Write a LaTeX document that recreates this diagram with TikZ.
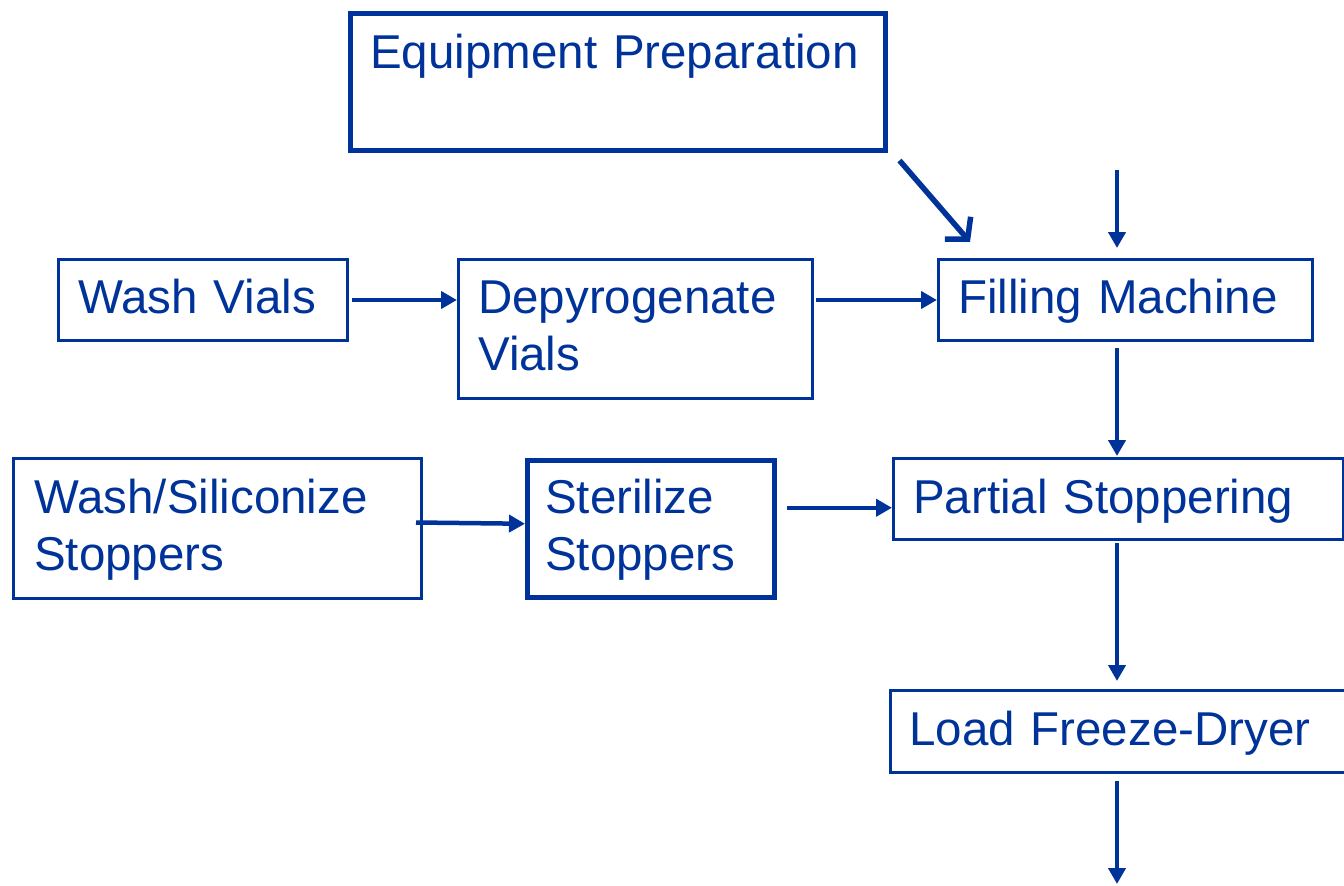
\documentclass[tikz,border=0pt]{standalone}
\usepackage{fontspec}
\setmainfont{Liberation Sans}
\usetikzlibrary{arrows.meta}
\definecolor{fblue}{RGB}{0,51,153}
\hyphenpenalty=10000\relax
\begin{document}
\begin{tikzpicture}[x=1pt,y=-1pt,
  box/.style={draw=fblue, line width=3pt, rectangle, inner sep=0pt, anchor=north west},
  thickbox/.style={box, line width=4.5pt},
  txt/.style={text=fblue, font=\fontsize{47.5}{57}\selectfont, anchor=base west, inner sep=0pt, text width=700pt, align=left},
  arr/.style={draw=fblue, line width=4.5pt, -{Triangle[length=16pt,width=17pt]}},
  arrv/.style={draw=fblue, line width=5.5pt, -{Straight Barb[length=15pt,width=34pt,line width=5.5pt]}}
]
\useasboundingbox (0,0) rectangle (1344,886);

% boxes
\node[thickbox, minimum width=535pt, minimum height=137pt] (eq) at (348,11) {};
\node[box, minimum width=289pt, minimum height=81pt] (wv) at (57,258) {};
\node[box, minimum width=354pt, minimum height=139pt] (dv) at (457,258) {};
\node[box, minimum width=374pt, minimum height=81pt] (fm) at (937,258) {};
\node[box, minimum width=408pt, minimum height=140pt] (ws) at (12,457) {};
\node[thickbox, minimum width=247pt, minimum height=137pt] (ss) at (525,458) {};
\node[box, minimum width=450pt, minimum height=81pt] (ps) at (892,457) {};
\node[box, minimum width=470pt, minimum height=82pt] (lf) at (889,689) {};

% texts
\node[txt] (eqt) at (370,68) {Equipment Preparation};
\node[txt] (wvt) at (78,313) {Wash Vials};
\node[txt] (dvt) at (478,313) {Depyrogenate\\Vials};
\node[txt] (fmt) at (958,313) {Filling Machine};
\node[txt] (wst) at (34,513) {Wash/Siliconize\\Stoppers};
\node[txt] (sst) at (545,513) {Sterilize\\Stoppers};
\node[txt] (pst) at (913,513) {Partial Stoppering};
\node[txt] (lft) at (909,745) {Load Freeze-Dryer};

% free ends
\coordinate (topin) at (1117,170);
\coordinate (botout) at (1117,884);

% connectors
\draw[arr] ([xshift=3pt]wv.east |- fm.west) -- (dv.west |- fm.west);
\draw[arr] ([xshift=2pt]dv.east |- fm.west) -- (fm.west);
\draw[arrv] ([shift={(12pt,-8pt)}]eq.south east) -- ([shift={(33pt,16pt)}]fm.north west);
\draw[arr] (topin) -- ([yshift=10pt]topin |- fm.north);
\draw[arr] ([yshift=-6pt]topin |- fm.south) -- ([yshift=1pt]topin |- ps.north);
\draw[arr] ([shift={(-7pt,6pt)}]ws.east) -- ([yshift=5pt]ss.west);
\draw[arr] ([shift={(10pt,21pt)}]ss.east) -- ([yshift=21pt]ss.east -| ps.west);
\draw[arr] ([yshift=-2pt]topin |- ps.south) -- ([yshift=8pt]topin |- lf.north);
\draw[arr] ([yshift=-7pt]topin |- lf.south) -- (botout);
\end{tikzpicture}
\end{document}
